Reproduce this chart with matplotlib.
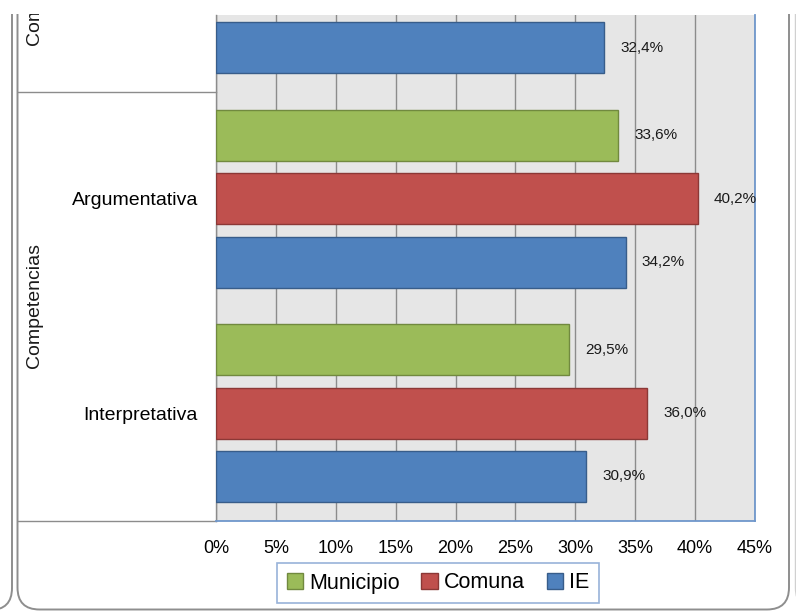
import matplotlib
matplotlib.use("Agg")
import matplotlib.pyplot as plt
import matplotlib.transforms as mtransforms
from matplotlib.patches import FancyBboxPatch, Rectangle
import numpy as np

plt.rcParams['font.family'] = ['Liberation Sans', 'DejaVu Sans']

# data (top category is only partly in view, its green/red bars are off-chart)
categorias = ['Interpretativa', 'Argumentativa', 'Comunicativa']
grupos = ['Competencias', 'Componentes']
grupo_centros = [0.5, 2.0]
series = ['Municipio', 'Comuna', 'IE']
municipio = [29.5, 33.6, np.nan]
comuna = [36.0, 40.2, np.nan]
ie = [30.9, 34.2, 32.4]
xticks = [0, 5, 10, 15, 20, 25, 30, 35, 40, 45]

colores = {'Municipio': ('#9BBB59', '#71893F'),
           'Comuna': ('#C0504D', '#8C3836'),
           'IE': ('#4F81BD', '#385D8A')}
offsets = {'Municipio': 0.296, 'Comuna': 0.0, 'IE': -0.296}
valores = {'Municipio': municipio, 'Comuna': comuna, 'IE': ie}

W, H = 796, 616
fig = plt.figure(figsize=(W / 100, H / 100), dpi=100)

# background axes in pixel units for the rounded frames
bg = fig.add_axes([0, 0, 1, 1], zorder=-5)
bg.set_xlim(0, W)
bg.set_ylim(H, 0)
bg.axis('off')
bg.add_patch(FancyBboxPatch((17.5, -60), 789 - 17.5, 609.5 + 60,
                            boxstyle='round,pad=0,rounding_size=22',
                            fc='white', ec='#8E8E8E', lw=1.4))
bg.add_patch(FancyBboxPatch((-300, -60), 312, 610 + 60,
                            boxstyle='round,pad=0,rounding_size=22',
                            fc='white', ec='#8E8E8E', lw=1.4))
bg.add_patch(FancyBboxPatch((795.5, -60), 300, 670,
                            boxstyle='round,pad=0,rounding_size=22',
                            fc='white', ec='#D0D0D0', lw=1.0))

left, right, bottom, top = 216, 755, 521, 15
ax = fig.add_axes([left / W, (H - bottom) / H, (right - left) / W, (bottom - top) / H])
ax.set_facecolor('#E6E6E6')

y = np.arange(len(categorias))
for s in series:
    fc, ec = colores[s]
    vals = np.array(valores[s], dtype=float)
    ax.barh(y + offsets[s], vals, height=0.238, color=fc, edgecolor=ec,
            linewidth=1.0, label=s, zorder=3)
    for yi, v in zip(y, vals):
        if np.isnan(v):
            continue
        ax.annotate(f'{v:.1f}%'.replace('.', ','), (v, yi + offsets[s]),
                    xytext=(11.5, 0), textcoords='offset points',
                    ha='left', va='center', fontsize=11, color='#1A1A1A',
                    zorder=4)

ax.set_xlim(0, 45)
ax.set_ylim(-0.504, 1.858)
ax.set_xticks(xticks)
ax.set_xticklabels([f'{t}%' for t in xticks], fontsize=13)
ax.set_yticks(y[:2])
ax.set_yticklabels(categorias[:2], fontsize=14)
ax.tick_params(axis='both', length=0)
ax.tick_params(axis='x', pad=14)
ax.tick_params(axis='y', pad=13)
ax.grid(axis='x', color='#8C8C8C', linewidth=1.0, zorder=1)
ax.set_axisbelow(True)

ax.spines['top'].set_visible(False)
ax.spines['left'].set_color('#8C8C8C')
ax.spines['left'].set_linewidth(1.0)
for sp in ['right', 'bottom']:
    ax.spines[sp].set_color('#6F97CB')
    ax.spines[sp].set_linewidth(1.3)

# multi-level category axis: group separators and group labels
trans = mtransforms.blended_transform_factory(fig.transFigure, ax.transData)
x0 = 17.5 / W
x1 = left / W
for yl in [1.5, ax.get_ylim()[0]]:
    ax.plot([x0, x1], [yl, yl], transform=trans, color='#8C8C8C',
            linewidth=1.0, clip_on=False)
for g, c in zip(grupos, grupo_centros):
    ax.text(35 / W, c, g, transform=trans, rotation=90, ha='center',
            va='center', fontsize=14, color='#1A1A1A')

leg = fig.legend(loc='center', bbox_to_anchor=(438 / W, (H - 583) / H),
                 ncol=3, fontsize=15.5, frameon=True, fancybox=False,
                 handlelength=0.75, handleheight=0.75, handletextpad=0.3,
                 columnspacing=1.0, borderpad=0.45)
leg.get_frame().set_edgecolor('#7FA0D0')
leg.get_frame().set_linewidth(1.2)

# white band at the very top, as in the reference crop
fig.add_artist(Rectangle((0, (H - 14) / H), 1, 14 / H, transform=fig.transFigure,
                         facecolor='white', edgecolor='none', zorder=100))

fig.savefig('out.png', dpi=100)
